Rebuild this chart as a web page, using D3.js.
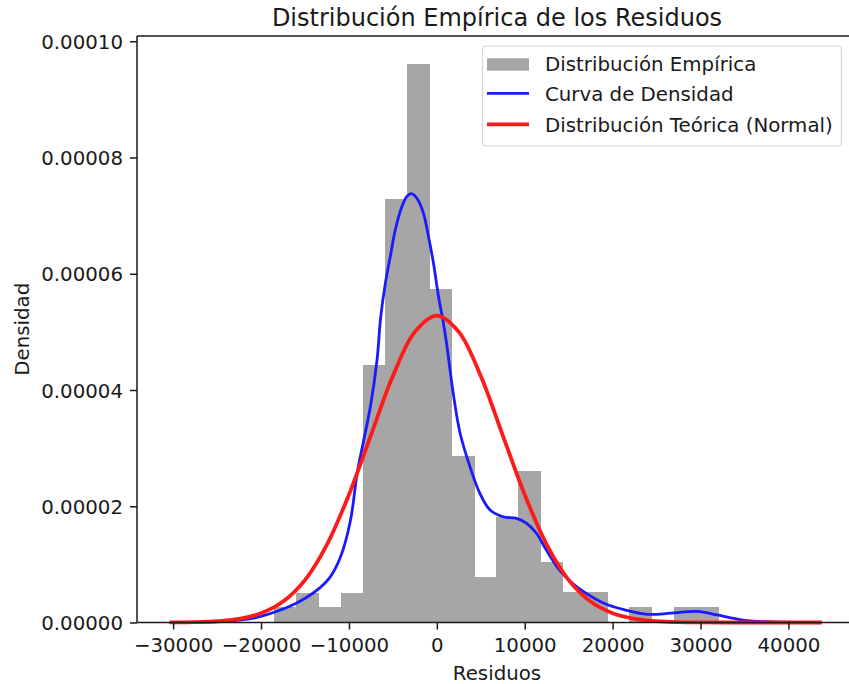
<!DOCTYPE html>
<html>
<head>
<meta charset="utf-8">
<script src="https://cdn.jsdelivr.net/npm/d3@7/dist/d3.min.js"></script>
<style>
  html, body { margin: 0; padding: 0; background: #ffffff; }
  svg { display: block; }
  text { font-family: "DejaVu Sans", sans-serif; fill: #1a1a1a; }
</style>
</head>
<body>
<svg id="chart" width="849" height="684"></svg>
<script>
// Histogram of residuals (density scale), 20 equal-width bins
const binStart = -18500;
const binWidth = 2525;
const histDensity = [
  0.0000026, 0.0000051, 0.0000026, 0.0000051, 0.0000443,
  0.0000729, 0.0000961, 0.0000573, 0.0000287, 0.0000078,
  0.0000182, 0.0000260, 0.0000104, 0.0000052, 0.0000052,
  0.0000000, 0.0000026, 0.0000000, 0.0000026, 0.0000026
];

// Kernel density estimate of the residuals
const kdeX = [
  -30400, -27000, -24000, -21000, -19000, -16000, -13600, -12100, -10950, -9820,
  -9060, -8310, -7560, -6800, -6380, -5850, -5290, -4720, -3960, -3400,
  -2910, -2270, -1520, -950, -380, 190, 750, 1100, 1870, 2640,
  3770, 4900, 6030, 7540, 9050, 10180, 11310, 12440, 13960, 15460,
  17000, 19000, 21300, 24000, 26600, 29600, 31900, 33800, 35300, 38400, 43800
];
const kdeY = [
  0.0000000, 0.00000005, 0.0000002, 0.0000007, 0.0000015, 0.0000033, 0.0000056, 0.0000079, 0.0000113, 0.0000176,
  0.0000257, 0.0000314, 0.0000371, 0.0000452, 0.0000526, 0.0000584, 0.0000630, 0.0000676, 0.0000716, 0.0000733,
  0.0000738, 0.0000730, 0.0000704, 0.0000664, 0.0000618, 0.0000561, 0.0000515, 0.0000481, 0.0000394, 0.0000326,
  0.0000268, 0.0000222, 0.0000194, 0.0000182, 0.0000179, 0.0000171, 0.0000154, 0.0000125, 0.0000090, 0.0000067,
  0.0000050, 0.0000033, 0.0000022, 0.0000014, 0.0000016, 0.0000019, 0.0000013, 0.0000007, 0.0000003, 0.0000001, 0.0000000
];

// Theoretical normal density over the same range
const normX = [
  -30400, -27500, -25000, -22500, -20000, -17500, -15000, -12500, -10000, -7500,
  -5000, -2500, 0, 2500, 5000, 7500, 10000, 12500, 15000, 17500,
  20000, 22500, 25000, 27500, 30000, 35000, 40000, 43800
];
const normY = [
  0.00000002, 0.00000007, 0.00000022, 0.00000062, 0.00000158, 0.0000036, 0.0000073, 0.0000134, 0.0000220, 0.0000322,
  0.0000424, 0.0000500, 0.0000528, 0.0000500, 0.0000424, 0.0000322, 0.0000220, 0.0000134, 0.0000073, 0.0000036,
  0.00000158, 0.00000062, 0.00000022, 0.00000007, 0.00000002, 0.0, 0.0, 0.0
];

const xTicks = [-30000, -20000, -10000, 0, 10000, 20000, 30000, 40000];
const yTicks = [0, 0.00002, 0.00004, 0.00006, 0.00008, 0.0001];

const legendLabels = ["Distribución Empírica", "Curva de Densidad", "Distribución Teórica (Normal)"];
const colors = { hist: "#a6a6a6", kde: "#1a1aff", norm: "#ff1a1a" };

const svg = d3.select("#chart");

const plotLeft = 137, plotTop = 36, plotBottom = 622.5;
const pxPerUnit = 0.00879;
const baseFont = 19.8;

// x limits: data range of the curves with a 5% margin on each side
const xMin = d3.min(normX.concat(kdeX));
const xMax = d3.max(normX.concat(kdeX));
const xPad = (xMax - xMin) * 0.05;
const xLo = xMin - xPad, xHi = xMax + xPad;
const plotRight = plotLeft + (xHi - xLo) * pxPerUnit;

const yHi = d3.max(histDensity) * 1.05;

const x = d3.scaleLinear().domain([xLo, xHi]).range([plotLeft, plotRight]);
const y = d3.scaleLinear().domain([0, yHi]).range([plotBottom, plotTop]);

// Bars
const bins = histDensity.map((d, i) => ({
  x0: binStart + i * binWidth,
  x1: binStart + (i + 1) * binWidth,
  v: d
}));
svg.append("g")
  .attr("shape-rendering", "crispEdges")
  .selectAll("rect")
  .data(bins.filter(b => b.v > 0))
  .join("rect")
  .attr("x", d => x(d.x0))
  .attr("width", d => x(d.x1) - x(d.x0) + 0.6)
  .attr("y", d => y(d.v))
  .attr("height", d => y(0) - y(d.v))
  .attr("fill", colors.hist);

// Curves
const line = d3.line()
  .x(d => x(d[0]))
  .y(d => y(d[1]))
  .curve(d3.curveCatmullRom.alpha(0.5));

svg.append("path")
  .attr("d", line(kdeX.map((v, i) => [v, kdeY[i]])))
  .attr("fill", "none")
  .attr("stroke", colors.kde)
  .attr("stroke-width", 2.8)
  .attr("stroke-linejoin", "round");

svg.append("path")
  .attr("d", line(normX.map((v, i) => [v, normY[i]])))
  .attr("fill", "none")
  .attr("stroke", colors.norm)
  .attr("stroke-width", 3.8)
  .attr("stroke-linejoin", "round");

// Axes
const xAxis = d3.axisBottom(x)
  .tickValues(xTicks)
  .tickFormat(d => d < 0 ? "\u2212" + Math.abs(d) : String(d))
  .tickSize(7)
  .tickPadding(8);
const gx = svg.append("g")
  .attr("transform", `translate(0,${plotBottom})`)
  .call(xAxis);

const yAxis = d3.axisLeft(y)
  .tickValues(yTicks)
  .tickFormat(d3.format(".5f"))
  .tickSize(7)
  .tickPadding(7);
const gy = svg.append("g")
  .attr("transform", `translate(${plotLeft},0)`)
  .call(yAxis);

[gx, gy].forEach(g => {
  g.select(".domain").remove();
  g.selectAll(".tick line").attr("stroke", "#1a1a1a").attr("stroke-width", 1.5);
  g.selectAll(".tick text")
    .attr("font-family", "DejaVu Sans")
    .attr("font-size", baseFont)
    .attr("fill", "#1a1a1a");
});
gy.selectAll(".tick text").attr("dy", "0.36em");

// Spines (left, bottom, top; the right one lies past the visible edge)
const spines = svg.append("g").attr("stroke", "#1a1a1a").attr("stroke-width", 1.5).attr("fill", "none");
spines.append("line").attr("x1", plotLeft).attr("x2", plotLeft).attr("y1", plotTop).attr("y2", plotBottom);
spines.append("line").attr("x1", plotLeft).attr("x2", plotRight).attr("y1", plotBottom).attr("y2", plotBottom);
spines.append("line").attr("x1", plotLeft).attr("x2", plotRight).attr("y1", plotTop).attr("y2", plotTop);

// Title and axis labels
const plotMid = 497;
svg.append("text")
  .attr("x", plotMid).attr("y", 26)
  .attr("text-anchor", "middle")
  .attr("font-size", 24)
  .text("Distribución Empírica de los Residuos");

svg.append("text")
  .attr("x", plotMid).attr("y", 680)
  .attr("text-anchor", "middle")
  .attr("font-size", baseFont)
  .text("Residuos");

svg.append("text")
  .attr("transform", `translate(29,${(plotTop + plotBottom) / 2}) rotate(-90)`)
  .attr("text-anchor", "middle")
  .attr("font-size", baseFont)
  .text("Densidad");

// Legend
const lg = svg.append("g");
lg.append("rect")
  .attr("x", 482.5).attr("y", 46)
  .attr("width", 359).attr("height", 100)
  .attr("rx", 4)
  .attr("fill", "#ffffff").attr("fill-opacity", 0.85)
  .attr("stroke", "#d4d4d4").attr("stroke-width", 1.2);

const rowBase = [70.7, 101.3, 131.7];
lg.append("rect")
  .attr("x", 487).attr("y", 58.3).attr("width", 42).attr("height", 12.4)
  .attr("fill", colors.hist);
lg.append("line")
  .attr("x1", 487).attr("x2", 529).attr("y1", 93.3).attr("y2", 93.3)
  .attr("stroke", colors.kde).attr("stroke-width", 2.8);
lg.append("line")
  .attr("x1", 487).attr("x2", 529).attr("y1", 124.3).attr("y2", 124.3)
  .attr("stroke", colors.norm).attr("stroke-width", 3.8);

lg.selectAll("text.leg")
  .data(legendLabels)
  .join("text")
  .attr("class", "leg")
  .attr("x", 545)
  .attr("y", (d, i) => rowBase[i])
  .attr("font-size", baseFont)
  .text(d => d);
</script>
</body>
</html>
